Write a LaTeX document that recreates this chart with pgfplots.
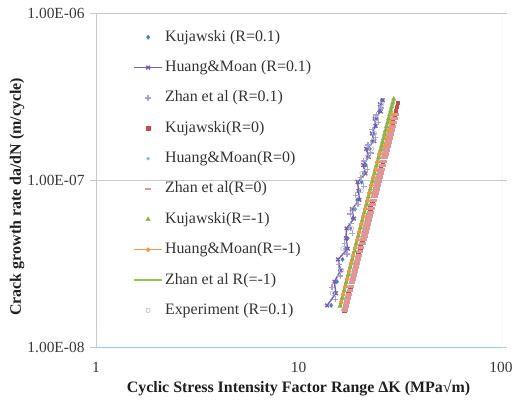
\documentclass[border=0pt]{standalone}
\usepackage{fontspec}
\setmainfont{Liberation Serif}
\usepackage{pgfplots}
\pgfplotsset{compat=1.18}
\definecolor{cBlue}{RGB}{79,129,189}
\definecolor{cPurple}{RGB}{120,96,170}
\definecolor{cLav}{RGB}{170,160,215}
\definecolor{cRed}{RGB}{192,80,77}
\definecolor{cCyan}{RGB}{120,195,220}
\definecolor{cPink}{RGB}{222,150,150}
\definecolor{cGreen}{RGB}{140,180,75}
\definecolor{cLGreen}{RGB}{150,196,90}
\definecolor{cOrange}{RGB}{247,150,70}
\definecolor{cGrayC}{RGB}{190,190,200}
\definecolor{cBorder}{RGB}{160,200,232}
\definecolor{cGrid}{RGB}{200,200,200}
\pgfplotsset{legimg/.style={legend image code/.code={\draw[mark repeat=2,mark phase=2,##1] plot coordinates {(0bp,0bp)(14bp,0bp)(28bp,0bp)};}},
  legthin/.style={legend image code/.code={\draw[mark repeat=2,mark phase=2,##1,line width=1.8bp] plot coordinates {(0bp,0bp)(14bp,0bp)(28bp,0bp)};}}}
\begin{document}
\begin{tikzpicture}
\path[use as bounding box] (0,0) rectangle (515bp,404bp);
\begin{axis}[
  at={(96bp,57bp)}, anchor=south west,
  scale only axis, width=405bp, height=334bp,
  xmode=log, ymode=log,
  xmin=1, xmax=100, ymin=1e-8, ymax=1e-6,
  xtick={1,10,100}, xticklabels={1,10,100},
  ytick={1e-8,1e-7,1e-6}, yticklabels={1.00E-08,1.00E-07,1.00E-06},
  xminorticks=false, yminorticks=false,
  axis line style={draw=none},
  ymajorgrids, grid style={color=cGrid, line width=0.8bp},
  tick align=outside, major tick length=6bp,
  xtick style={draw=none}, ytick style={draw=cGrid, line width=0.8bp},
  ticklabel style={font=\fontsize{15.5}{17}\selectfont, text=black!78},
  yticklabel style={xshift=-2bp},
  xticklabel style={yshift=-6bp},
  xlabel={Cyclic Stress Intensity Factor Range ΔK (MPa√m)},
  ylabel={Crack growth rate da/dN (m/cycle)},
  label style={font=\fontsize{16}{18}\selectfont\bfseries, text=black!88},
  xlabel style={at={(axis description cs:0.5,-0.1228)}, anchor=center},
  ylabel style={at={(axis description cs:-0.195,0.45)}, anchor=center},
  legend cell align=left,
  legend style={draw=none, fill=none, inner sep=0pt,
    at={(axis description cs:0.0914,0.955)}, anchor=north west,
    row sep=12.35bp,
    nodes={inner sep=2bp, text height=11bp, text depth=3bp,
      font=\fontsize{16}{18}\selectfont, text=black!80}},
]
% Kujawski (R=0.1)
\addplot[only marks, mark=diamond*, mark size=2.2bp, color=cBlue, legimg] coordinates {
(14.5,1.775e-8)(15,2.097e-8)(15.5,2.463e-8)(16,2.879e-8)(16.5,3.347e-8)(17,3.877e-8)
(17.5,4.470e-8)(18,5.133e-8)(18.5,5.872e-8)(19,6.693e-8)(19.5,7.604e-8)(20,8.612e-8)
(20.5,9.721e-8)(21,1.094e-7)(21.5,1.228e-7)(22,1.375e-7)(22.5,1.535e-7)(23,1.710e-7)
(23.5,1.901e-7)(24,2.108e-7)(24.5,2.333e-7)(25,2.576e-7)(25.5,2.838e-7)(25.8,3.006e-7)};
\addlegendentry{Kujawski (R=0.1)}
% Huang&Moan (R=0.1)
\addplot[color=cPurple, line width=1.4bp, mark=x, mark size=2.6bp, legimg] coordinates {
(13.85,1.775e-8)(15.30,2.097e-8)(15.04,2.463e-8)(16.16,2.879e-8)(15.68,3.347e-8)(17.51,3.877e-8)
(17.15,4.470e-8)(17.28,5.133e-8)(18.78,5.872e-8)(18.34,6.693e-8)(19.99,7.604e-8)(19.80,8.612e-8)
(19.58,9.721e-8)(21.42,1.094e-7)(20.86,1.228e-7)(22.22,1.375e-7)(21.60,1.535e-7)(23.69,1.710e-7)
(23.03,1.901e-7)(24.00,2.108e-7)(23.77,2.333e-7)(25.50,2.576e-7)(25.25,2.838e-7)(26.06,3.006e-7)};
\addlegendentry{Huang\&Moan (R=0.1)}
% Zhan et al (R=0.1)
\addplot[only marks, mark=+, mark size=3bp, color=cLav, line width=1.3bp, legimg] coordinates {
(15.19,1.929e-8)(14.64,2.273e-8)(16.07,2.662e-8)(15.76,3.105e-8)(17.34,3.602e-8)(16.91,4.163e-8)
(18.46,4.790e-8)(18.07,5.490e-8)(18.00,6.268e-8)(19.64,7.137e-8)(19.16,8.093e-8)(20.96,9.150e-8)
(20.34,1.031e-7)(21.89,1.159e-7)(20.99,1.299e-7)(22.70,1.453e-7)(22.07,1.621e-7)(23.95,1.803e-7)
(23.16,2.002e-7)(24.74,2.217e-7)(24.26,2.450e-7)(25.63,2.704e-7)};
\addlegendentry{Zhan et al (R=0.1)}
% Kujawski(R=0)
\addplot[only marks, mark=square*, mark size=1.8bp, color=cRed, legimg] coordinates {
(16.797,1.666e-8)(17.188,1.855e-8)(17.588,2.066e-8)(17.998,2.301e-8)(18.418,2.563e-8)
(18.847,2.855e-8)(19.285,3.180e-8)(19.735,3.541e-8)(20.194,3.944e-8)(20.664,4.393e-8)
(21.146,4.893e-8)(21.638,5.450e-8)(22.142,6.070e-8)(22.658,6.760e-8)(23.186,7.530e-8)
(23.726,8.386e-8)(24.279,9.341e-8)(24.844,1.0404e-7)(25.423,1.1588e-7)(26.015,1.2906e-7)
(26.621,1.4374e-7)(27.241,1.6010e-7)(27.875,1.7831e-7)(28.525,1.9862e-7)(29.189,2.2122e-7)
(29.869,2.4639e-7)(30.215,2.600e-7)(30.565,2.744e-7)(30.918,2.896e-7)};
\addlegendentry{Kujawski(R=0)}
% Huang&Moan(R=0)
\addplot[only marks, mark=*, mark size=1.5bp, color=cCyan, legimg] coordinates {
(16.458,1.666e-8)(17.036,1.958e-8)(17.635,2.301e-8)(18.254,2.705e-8)(18.896,3.180e-8)
(19.560,3.737e-8)(20.247,4.393e-8)(20.959,5.164e-8)(21.695,6.070e-8)(22.457,7.135e-8)
(23.247,8.386e-8)(24.064,9.858e-8)(24.910,1.1588e-7)(25.785,1.3620e-7)(26.691,1.6010e-7)
(27.629,1.8818e-7)(28.599,2.2122e-7)};
\addlegendentry{Huang\&Moan(R=0)}
% Zhan et al(R=0)
\addplot[only marks, mark=-, mark size=3.3bp, line width=3.6bp, color=cPink, legthin] coordinates {
(16.967,1.666e-8)(17.163,1.758e-8)(17.362,1.855e-8)(17.563,1.958e-8)(17.766,2.066e-8)
(17.972,2.181e-8)(18.180,2.301e-8)(18.391,2.429e-8)(18.604,2.563e-8)(18.819,2.705e-8)
(19.037,2.855e-8)(19.257,3.013e-8)(19.480,3.180e-8)(19.706,3.356e-8)(19.934,3.541e-8)
(20.165,3.737e-8)(20.398,3.944e-8)(20.634,4.163e-8)(20.873,4.393e-8)(21.115,4.636e-8)
(21.360,4.893e-8)(21.607,5.164e-8)(21.857,5.450e-8)(22.110,5.751e-8)(22.366,6.070e-8)
(22.625,6.406e-8)(22.887,6.760e-8)(23.152,7.135e-8)(23.420,7.530e-8)(23.691,7.947e-8)
(23.966,8.386e-8)(24.243,8.851e-8)(24.524,9.341e-8)(24.808,9.858e-8)(25.095,1.0404e-7)
(25.386,1.0980e-7)(25.680,1.1588e-7)(25.977,1.2229e-7)(26.278,1.2906e-7)(26.582,1.3620e-7)
(26.890,1.4374e-7)(27.201,1.5170e-7)(27.516,1.6010e-7)(27.835,1.6896e-7)(28.157,1.7831e-7)
(28.483,1.8818e-7)(28.813,1.9862e-7)(29.147,2.0961e-7)(29.484,2.2122e-7)(29.826,2.3346e-7)
(30.171,2.4639e-7)};
\addlegendentry{Zhan et al(R=0)}
% Kujawski(R=-1)
\addplot[only marks, mark=triangle*, mark size=2.6bp, color=cGreen, legimg] coordinates {
(16.047,1.758e-8)(16.233,1.855e-8)(16.421,1.958e-8)(16.611,2.066e-8)(16.804,2.181e-8)
(16.998,2.301e-8)(17.196,2.429e-8)(17.395,2.563e-8)(17.596,2.705e-8)(17.800,2.855e-8)
(18.005,3.013e-8)(18.214,3.180e-8)(18.425,3.356e-8)(18.638,3.541e-8)(18.854,3.737e-8)
(19.072,3.944e-8)(19.293,4.163e-8)(19.516,4.393e-8)(19.743,4.636e-8)(19.972,4.893e-8)
(20.203,5.164e-8)(20.436,5.450e-8)(20.673,5.751e-8)(20.912,6.070e-8)(21.154,6.406e-8)
(21.399,6.760e-8)(21.647,7.135e-8)(21.898,7.530e-8)(22.151,7.947e-8)(22.408,8.386e-8)
(22.667,8.851e-8)(22.930,9.341e-8)(23.195,9.858e-8)(23.464,1.0404e-7)(23.736,1.0980e-7)
(24.011,1.1588e-7)(24.288,1.2229e-7)(24.570,1.2906e-7)(24.854,1.3620e-7)(25.142,1.4374e-7)
(25.433,1.5170e-7)(25.727,1.6010e-7)(26.026,1.6896e-7)(26.327,1.7831e-7)(26.632,1.8818e-7)
(26.940,1.9862e-7)(27.252,2.0961e-7)(27.568,2.2122e-7)(27.888,2.3346e-7)(28.210,2.4639e-7)
(28.536,2.600e-7)(28.867,2.744e-7)(29.201,2.896e-7)(29.540,3.056e-7)};
\addlegendentry{Kujawski(R=-1)}
% Huang&Moan(R=-1)
\addplot[color=cOrange, line width=1.2bp, mark=*, mark size=1.6bp, legimg] coordinates {
(16.233,1.855e-8)(16.611,2.066e-8)(16.998,2.301e-8)(17.395,2.563e-8)(17.800,2.855e-8)
(18.214,3.180e-8)(18.638,3.541e-8)(19.072,3.944e-8)(19.516,4.393e-8)(19.972,4.893e-8)
(20.436,5.450e-8)(20.912,6.070e-8)(21.399,6.760e-8)(21.898,7.530e-8)(22.408,8.386e-8)
(22.930,9.341e-8)(23.464,1.0404e-7)(24.011,1.1588e-7)(24.570,1.2906e-7)(25.142,1.4374e-7)
(26.627,1.6010e-7)(27.248,1.7831e-7)(27.883,1.9862e-7)(28.533,2.2122e-7)(29.197,2.4639e-7)};
\addlegendentry{Huang\&Moan(R=-1)}
% Zhan et al R(=-1)
\addplot[color=cLGreen, line width=3bp, legthin] coordinates {
(16.047,1.758e-8)(17.800,2.855e-8)(19.972,4.893e-8)(22.408,8.386e-8)(25.142,1.4374e-7)(28.210,2.4639e-7)(29.540,3.056e-7)};
\addlegendentry{Zhan et al R(=-1)}
% Experiment (R=0.1)
\addplot[only marks, mark=o, mark size=2.2bp, line width=0.7bp, color=cGrayC, legimg] coordinates {
(14.70,2.097e-8)(16.32,2.879e-8)(16.58,3.877e-8)(18.27,5.133e-8)(18.62,6.693e-8)(20.40,8.612e-8)
(20.58,1.094e-7)(21.78,1.375e-7)(22.95,1.535e-7)(23.23,1.710e-7)(23.74,1.901e-7)(24.26,2.333e-7)(25.76,2.838e-7)};
\addlegendentry{Experiment (R=0.1)}
\draw[color=cGrid, line width=0.8bp] (rel axis cs:0,0) -- (rel axis cs:0,1);
\draw[color=cBorder, line width=0.9bp] (rel axis cs:0,0) -- (rel axis cs:1,0) -- (rel axis cs:1,1);
\end{axis}
\end{tikzpicture}
\end{document}
